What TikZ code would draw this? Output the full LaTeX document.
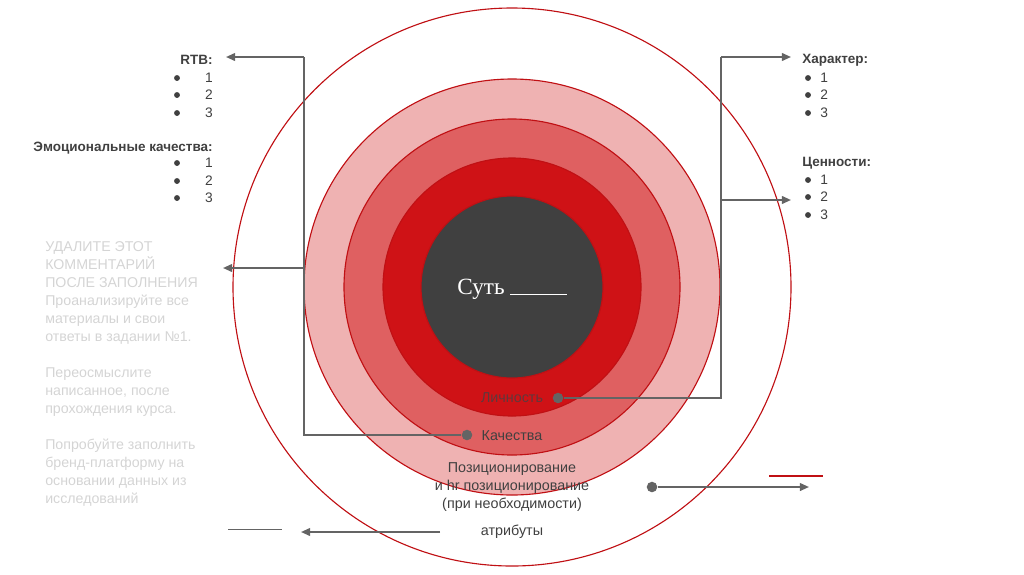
\documentclass[tikz,border=0pt]{standalone}
\usepackage{fontspec}
\setmainfont{Liberation Sans}
\newfontfamily\sutfont{Liberation Serif}
\usepackage{xcolor}
\usepackage{tikz}
\usetikzlibrary{arrows.meta,positioning}
\definecolor{rimred}  {RGB}{192,16,20}
\definecolor{ringpale}{RGB}{239,178,178}
\definecolor{ringmid} {RGB}{223,96,97}
\definecolor{ringred} {RGB}{207,18,22}
\definecolor{coregray}{RGB}{64,64,64}
\definecolor{linkgray}{RGB}{100,100,100}
\definecolor{textgray}{RGB}{64,64,64}
\definecolor{notegray}{RGB}{212,212,212}
\definecolor{pertext} {RGB}{96,56,60}
\tikzset{
  % Rings of the target
  ring/.style={draw=rimred, line width=0.8pt, fill=#1},
  ring/.default=white,
  % Texts
  head/.style={font=\fontsize{9.6}{12}\selectfont\bfseries, text=textgray, inner sep=0pt},
  item/.style={font=\fontsize{9.8}{12}\selectfont, text=textgray, inner sep=0pt},
  note/.style={font=\fontsize{10.1}{12.8}\selectfont, text=notegray, align=left, inner sep=0pt},
  lbl/.style ={font=\fontsize{10.2}{12.6}\selectfont, text=textgray, align=center, inner sep=0pt},
  % Connectors
  link/.style={line width=1.3pt, draw=linkgray},
  arr/.style ={link, -{Triangle[length=6.5pt,width=5.5pt]}},
  dotnode/.style={circle, fill=linkgray, inner sep=0pt, minimum size=7.5pt},
  bul/.style={circle, fill=textgray, inner sep=0pt, minimum size=4.2pt},
}
\begin{document}
\begin{tikzpicture}[x=0.025cm,y=-0.025cm]
  \useasboundingbox (0,0) rectangle (1024,574);

  % ── Rings ─────────────────────────────────────────────
  \coordinate (c) at (512,287);
  \draw[ring]          (c) circle[radius=279];
  \draw[ring=ringpale] (c) circle[radius=208];
  \draw[ring=ringmid]  (c) circle[radius=168];
  \draw[ring=ringred]  (c) circle[radius=129];
  \draw[ring=coregray] (c) circle[radius=91];
  \node[font=\sutfont\fontsize{16.5}{18}\selectfont, text=white] (core) at (512,289)
        {Суть \rule[-0.6pt]{40pt}{0.9pt}};

  % ── Left column ───────────────────────────────────────
  \node[head, anchor=east] (rtb) at (213,60) {RTB:};
  \foreach \n/\y in {1/78,2/95,3/113}{
    \node[bul] at (177,\y) {};
    \node[item, anchor=east] at (213,\y) {\n};
  }
  \node[head, anchor=east] (emo) at (213,148) {Эмоциональные качества:};
  \foreach \n/\y in {1/163,2/181,3/198}{
    \node[bul] at (177,\y) {};
    \node[item, anchor=east] at (213,\y) {\n};
  }
  \node[note, anchor=north west] (note) at (45,241)
        {УДАЛИТЕ ЭТОТ\\ КОММЕНТАРИЙ\\ ПОСЛЕ ЗАПОЛНЕНИЯ\\
         Проанализируйте все\\ материалы и свои\\ ответы в задании №1.\\[12.8pt]
         Переосмыслите\\ написанное, после\\ прохождения курса.\\[12.8pt]
         Попробуйте заполнить\\ бренд-платформу на\\ основании данных из\\ исследований};

  % ── Right column ──────────────────────────────────────
  \node[head, anchor=west] (char) at (802,60) {Характер:};
  \foreach \n/\y in {1/78,2/95,3/113}{
    \node[bul] at (808,\y) {};
    \node[item, anchor=west] at (820,\y) {\n};
  }
  \node[head, anchor=west] (val) at (802,163) {Ценности:};
  \foreach \n/\y in {1/180,2/197,3/215}{
    \node[bul] at (808,\y) {};
    \node[item, anchor=west] at (820,\y) {\n};
  }

  % ── Ring labels ───────────────────────────────────────
  \node[lbl, text=pertext] (pers) at (512,398) {Личность};
  \node[lbl] (qual) at (512,436) {Качества};
  \node[lbl] (pos)  at (512,487) {Позиционирование\\ и hr позиционирование\\ (при необходимости)};
  \node[lbl] (attr) at (512,532) {атрибуты};

  % ── Connectors, left ──────────────────────────────────
  \coordinate (ltop) at (304,57);
  \coordinate (lmid) at (304,268);
  \coordinate (lbot) at (304,435);
  \coordinate (rtbtip)  at (226,57);
  \coordinate (notetip) at (223,268);
  \node[dotnode] (qdot) at (467,435) {};
  \draw[link] (qdot) -- (lbot) -- (ltop);
  \draw[arr]  (ltop) -- (rtbtip);
  \draw[arr]  (lmid) -- (notetip);

  % ── Connectors, right ─────────────────────────────────
  \coordinate (rtop) at (721,57);
  \coordinate (rmid) at (721,200);
  \coordinate (rbot) at (721,398);
  \coordinate (chartip) at (791,57);
  \coordinate (valtip)  at (791,200);
  \node[dotnode] (pdot) at (558,398) {};
  \draw[link] (pdot) -- (rbot) -- (rtop);
  \draw[arr]  (rtop) -- (chartip);
  \draw[arr]  (rmid) -- (valtip);

  % ── Connectors, bottom ────────────────────────────────
  \node[dotnode] (posdot) at (652,487) {};
  \coordinate (postip) at (809,487);
  \draw[arr] (posdot) -- (postip);
  \draw[rimred, line width=0.9pt] (769,476) -- (823,476);
  \coordinate (attrfrom) at (440,532);
  \coordinate (attrtip)  at (301,532);
  \draw[arr] (attrfrom) -- (attrtip);
  \draw[linkgray, line width=0.6pt] (228,529) -- (282,529);

\end{tikzpicture}
\end{document}
